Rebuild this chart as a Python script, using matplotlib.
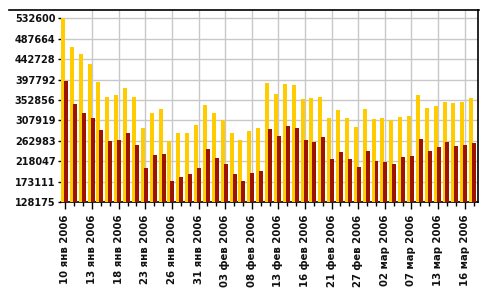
import matplotlib
matplotlib.use("Agg")
import matplotlib.pyplot as plt
import numpy as np
from matplotlib.lines import Line2D

YELLOW = "#ffcc00"
DARKRED = "#9c1400"
GRID = "#c8c8c8"
INK = "#111111"

dates = [
    "10 янв", "11 янв", "12 янв", "13 янв", "16 янв", "17 янв", "18 янв", "19 янв",
    "20 янв", "23 янв", "24 янв", "25 янв", "26 янв", "27 янв", "30 янв", "31 янв",
    "01 фев", "02 фев", "03 фев", "06 фев", "07 фев", "08 фев", "09 фев", "10 фев",
    "13 фев", "14 фев", "15 фев", "16 фев", "17 фев", "20 фев", "21 фев", "22 фев",
    "24 фев", "27 фев", "28 фев", "01 мар", "02 мар", "03 мар", "06 мар", "07 мар",
    "09 мар", "10 мар", "13 мар", "14 мар", "15 мар", "16 мар", "17 мар",
]
year = "2006"

yellow_vals = [
    532600, 469950, 454515, 432465, 392775, 359700, 364110, 379545, 359700, 291345,
    324420, 333240, 262680, 280320, 280320, 297960, 342060, 324420, 308985, 280320,
    264885, 284730, 291345, 390570, 366315, 388365, 386160, 353970, 357495, 359700,
    313395, 331035, 313395, 293550, 333240, 311190, 313395, 308985, 315600, 317805,
    364110, 335445, 339855, 348675, 346470, 348675, 357495,
]
red_vals = [
    394980, 344265, 324420, 313395, 286935, 262680, 264885, 280320, 253860, 203145,
    231810, 234015, 174480, 183300, 189915, 203145, 245040, 225195, 211965, 189915,
    174480, 192120, 196530, 289140, 273705, 295755, 291345, 264885, 260475, 271500,
    222990, 238425, 222990, 205350, 240630, 218580, 216375, 211965, 227400, 229605,
    267090, 240630, 249450, 260475, 251655, 253860, 258270,
]
y_ticks = [128175, 173111, 218047, 262983, 307919, 352856, 397792, 442728, 487664, 532600]

plt.rcParams["font.family"] = "DejaVu Sans"

fig = plt.figure(figsize=(4.95, 3.0), dpi=100)
ax = fig.add_axes([61 / 495, 1 - 202 / 300, 417 / 495, 191.7 / 300])

x = np.arange(len(dates))
ax.bar(x - 0.275, yellow_vals, width=0.45, color=YELLOW, zorder=3)
ax.bar(x + 0.06, red_vals, width=0.45, color=DARKRED, zorder=4)

ax.set_xlim(-0.5, len(dates) - 0.5)
ax.set_ylim(128175, 550240)

major = x[::3]
ax.set_xticks(major)
ax.set_xticklabels([f"{d} {year}" for d in dates[::3]], rotation=90,
                   fontsize=7.3, fontweight="bold", color=INK)
ax.set_xticks(x, minor=True)
ax.tick_params(axis="x", which="major", length=5, width=1, pad=4, color="black")
ax.tick_params(axis="x", which="minor", length=3, width=1, color="black")

ax.set_yticks(y_ticks)
ax.set_yticklabels([str(v) for v in y_ticks], fontsize=7, fontweight="bold", color=INK)
ax.tick_params(axis="y", length=2, width=1, pad=2, color="black")

for v in y_ticks:
    ax.axhline(v, color=GRID, lw=1, zorder=1)
for m in major[1:]:
    ax.axvline(m, color=GRID, lw=1, zorder=1)

ax.spines["left"].set_visible(False)
ax.spines["top"].set_visible(False)
ax.spines["bottom"].set_color("black")
ax.spines["right"].set_color("black")
ax.spines["bottom"].set_linewidth(1.2)
ax.spines["right"].set_linewidth(1.2)

# top border runs across the label area too
fig.add_artist(Line2D([9 / 495, 478.5 / 495], [1 - 10.3 / 300, 1 - 10.3 / 300],
                      color="black", lw=1.2, transform=fig.transFigure))

fig.savefig("out.png", dpi=100, facecolor="white")
